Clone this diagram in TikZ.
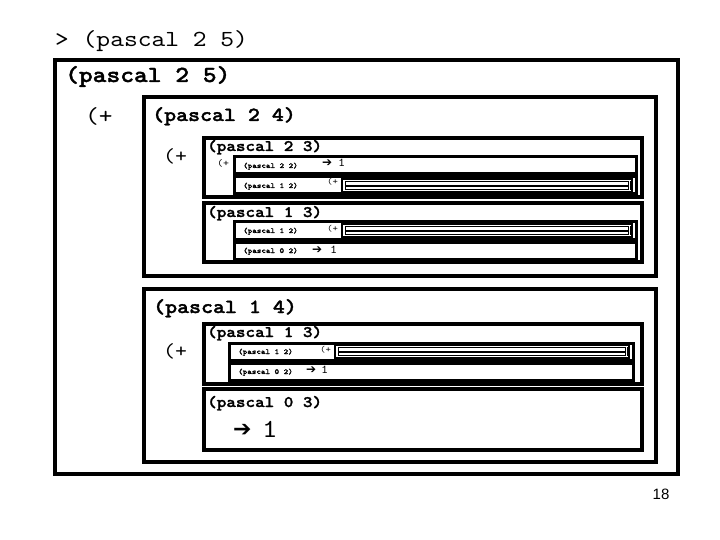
\documentclass[tikz,border=0pt]{standalone}
\usepackage{fontspec}
\setmainfont{Liberation Sans}
\newfontfamily\crreg{lmmono10-regular.otf}[FakeStretch=1.14]
\newfontfamily\crbold{lmmonolt10-bold.otf}[FakeStretch=1.14,FakeBold=1.6]
\newfontfamily\symfont{DejaVu Sans}
\usetikzlibrary{positioning}
\newcommand{\fs}[1]{\fontsize{#1}{#1}\selectfont}
\tikzset{
  frm/.style={draw=black,line width=4pt},
  rfrm/.style={draw=black,line width=3pt},
  tfrm/.style={draw=black,line width=1.6pt},
  hfrm/.style={draw=black,line width=0.9pt},
  txt/.style={inner sep=0pt,anchor=base west},
  lbl/.style={txt,font=\crbold\fs{#1}},
  plus/.style={txt,font=\crreg\fs{#1}},
  tiny/.style={txt,font=\crbold\fs{7.6}},
  res/.style={txt,font=\symfont\fs{#1}},
}
% one row inside a (pascal n 3) frame: text, then a result or a nested call
\newcommand{\resrow}[6]{% name, x0, y0, x1, y1, call
  \draw[rfrm] (#2,#3) rectangle (#4,#5);
  \node[tiny] (#1) at (#2+9,#5-6) {#6};
}
\newcommand{\nestrow}[4]{% x start, y0, x1, y1
  \draw[tfrm] (#1,#2+2) rectangle (#3-4,#4-2);
  \draw[hfrm] (#1+3,#2+4.5) rectangle (#3-8,#2+8);
  \draw[hfrm] (#1+3,#2+9.5) rectangle (#3-8,#4-4.5);
  \draw[line width=1pt] (#3-6,#2+4) -- (#3-6,#4-4);
}
\begin{document}
\begin{tikzpicture}[x=1pt,y=-1pt]
\useasboundingbox (0,0) rectangle (720,540);
\fill[white] (0,0) rectangle (720,540);

\node[plus=23] (prompt) at (55,47) {> (pascal 2 5)};

% (pascal 2 5)
\draw[frm] (55,60) rectangle (678,474);
\node[lbl=23] (p25) at (65,82) {(pascal 2 5)};
\node[plus=23] (add25) at (85,124) {(+};

% (pascal 2 4)
\draw[frm] (144,97) rectangle (656,276);
\node[lbl=20] (p24) at (152,121) {(pascal 2 4)};
\node[plus=20] (add24) at (163,163) {(+};

\draw[frm] (204,138) rectangle (642,197);
\node[lbl=16] (p23) at (207,151) {(pascal 2 3)};
\node[plus=10] (add23) at (217,167) {(+};
\resrow{p22}{234}{157}{636}{174}{(pascal 2 2)}
\node[res=12] (a22) at (322,167) {➔};
\node[plus=12] (r22) at (338,167) {1};
\resrow{p12a}{234}{177}{636}{194}{(pascal 1 2)}
\node[plus=9] (add12a) at (327,185) {(+};
\nestrow{342}{177}{636}{194}

\draw[frm] (204,203) rectangle (642,262);
\node[lbl=16] (p13a) at (207,217) {(pascal 1 3)};
\resrow{p12b}{234}{222}{636}{239}{(pascal 1 2)}
\node[plus=9] (add12b) at (327,231) {(+};
\nestrow{342}{222}{636}{239}
\resrow{p02a}{234}{242}{636}{259}{(pascal 0 2)}
\node[res=12] (a02a) at (312,253) {➔};
\node[plus=12] (r02a) at (330,253) {1};

% (pascal 1 4)
\draw[frm] (144,289) rectangle (656,462);
\node[lbl=20] (p14) at (153,313) {(pascal 1 4)};
\node[plus=20] (add14) at (163,357) {(+};

\draw[frm] (204,324) rectangle (642,384);
\node[lbl=16] (p13b) at (207,337) {(pascal 1 3)};
\resrow{p12c}{229}{343}{633}{360}{(pascal 1 2)}
\node[plus=9] (add12c) at (320,352) {(+};
\nestrow{335}{343}{633}{360}
\resrow{p02b}{229}{363}{633}{380}{(pascal 0 2)}
\node[res=12] (a02b) at (306,373) {➔};
\node[plus=12] (r02b) at (321,373) {1};

\draw[frm] (204,389) rectangle (642,450);
\node[lbl=16] (p03) at (207,407) {(pascal 0 3)};
\node[res=22] (a03) at (233,436) {➔};
\node[plus=26] (r03) at (262,437) {1};

\node[font=\fs{15}] (page) at (661,494) {18};
\end{tikzpicture}
\end{document}
